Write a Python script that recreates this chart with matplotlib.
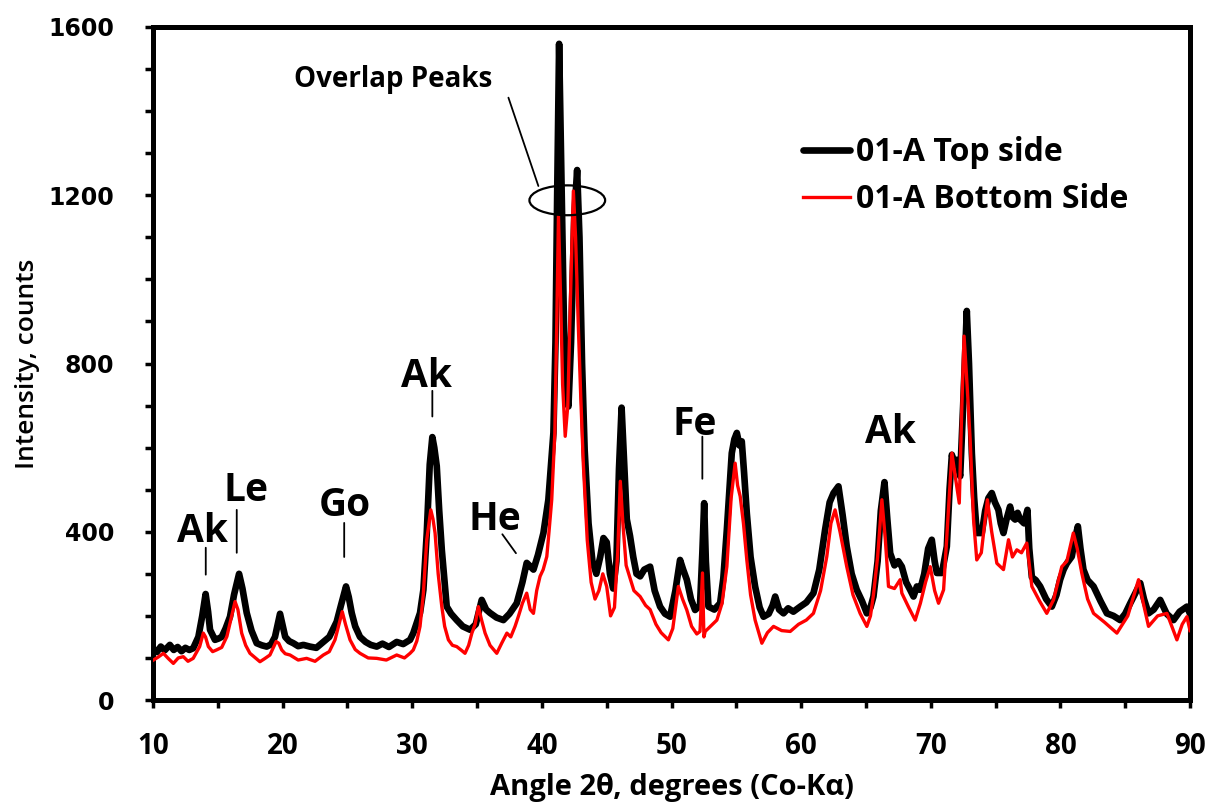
import matplotlib
matplotlib.use("Agg")
import matplotlib.pyplot as plt
from matplotlib.patches import Ellipse
from matplotlib.ticker import MultipleLocator
from matplotlib.font_manager import FontProperties

# ---------------- data ----------------
top_x = [10.0, 10.3, 10.6, 10.9, 11.3, 11.6, 11.9, 12.2, 12.5, 12.8, 13.1, 13.5, 13.8, 14.06, 14.25,
         14.4, 14.78, 15.05, 15.3, 15.6, 15.94, 16.25, 16.64, 16.9, 17.23, 17.6, 18.0, 18.4, 18.77,
         19.1, 19.41, 19.8, 20.2, 20.5, 20.83, 21.2, 21.6, 22.1, 22.6, 23.14, 23.6, 24.17, 24.5,
         24.89, 25.1, 25.33, 25.6, 25.97, 26.4, 26.8, 27.26, 27.7, 28.2, 28.8, 29.3, 29.83, 30.08,
         30.6, 30.86, 31.12, 31.35, 31.55, 31.7, 31.89, 32.08, 32.28, 32.66, 33.0, 33.43, 33.9,
         34.46, 34.9, 35.1, 35.36, 35.7, 36.0, 36.5, 37.03, 37.5, 38.06, 38.5, 38.83, 39.1, 39.35,
         39.7, 40.12, 40.5, 40.89, 41.05, 41.18, 41.33, 41.5, 41.7, 41.9, 42.05, 42.25, 42.5, 42.72,
         42.9, 43.1, 43.3, 43.6, 43.9, 44.2, 44.5, 44.75, 45.0, 45.25, 45.5, 45.75, 45.95, 46.15,
         46.35, 46.55, 46.8, 47.05, 47.3, 47.58, 47.9, 48.35, 48.7, 49.12, 49.5, 49.89, 50.3,
         50.66, 50.9, 51.18, 51.5, 51.82, 52.2, 52.38, 52.52, 52.65, 52.85, 53.3, 53.75, 54.0,
         54.27, 54.65, 54.85, 55.04, 55.25, 55.42, 55.6, 55.81, 56.1, 56.45, 56.8, 57.1, 57.5,
         57.8, 58.0, 58.3, 58.64, 59.0, 59.4, 59.93, 60.4, 60.95, 61.4, 61.85, 62.2, 62.5, 62.88,
         63.2, 63.52, 63.9, 64.29, 64.7, 65.07, 65.35, 65.58, 65.9, 66.15, 66.43, 66.65, 66.87,
         67.2, 67.5, 67.77, 68.1, 68.41, 68.67, 68.93, 69.18, 69.5, 69.8, 70.08, 70.3, 70.47,
         70.86, 71.24, 71.45, 71.63, 71.8, 72.01, 72.27, 72.5, 72.78, 72.95, 73.17, 73.35, 73.55,
         73.94, 74.2, 74.45, 74.71, 74.95, 75.22, 75.4, 75.61, 75.85, 76.12, 76.3, 76.51, 76.7,
         76.9, 77.2, 77.46, 77.6, 77.8, 78.1, 78.44, 78.9, 79.34, 79.7, 79.98, 80.25, 80.5, 80.88,
         81.1, 81.35, 81.55, 81.78, 82.1, 82.56, 83.1, 83.59, 84.1, 84.61, 85.0, 85.39, 85.8,
         86.16, 86.45, 86.8, 87.2, 87.7, 88.2, 88.73, 89.2, 89.76, 90.0]
top_y = [123, 114, 127, 118, 131, 119, 126, 116, 124, 119, 123, 150, 200, 252, 210,
         167, 143, 146, 150, 170, 198, 250, 300, 265, 207, 165, 135, 130, 127,
         132, 150, 205, 150, 140, 135, 128, 131, 127, 124, 138, 150, 186, 225,
         270, 245, 207, 175, 150, 138, 131, 127, 134, 126, 138, 133, 143, 159,
         207, 262, 397, 560, 625, 600, 556, 450, 357, 222, 205, 190, 175,
         167, 180, 205, 238, 215, 207, 196, 190, 205, 230, 280, 326, 318, 310,
         345, 397, 476, 635, 850, 1200, 1560, 1250, 900, 720, 698, 850, 1150, 1260,
         1100, 800, 595, 420, 330, 300, 340, 385, 375, 300, 265, 330, 550, 695,
         560, 430, 390, 340, 300, 294, 310, 317, 260, 222, 205, 198, 260,
         333, 310, 286, 240, 214, 225, 350, 468, 330, 222, 215, 230, 290,
         405, 587, 620, 635, 605, 615, 540, 444, 340, 270, 220, 198, 205,
         225, 246, 215, 206, 218, 210, 222, 232, 254, 310, 405, 470, 492, 508,
         440, 365, 300, 262, 235, 206, 220, 246, 330, 450, 518, 430, 349,
         320, 330, 317, 280, 262, 246, 270, 262, 300, 360, 381, 330, 302,
         302, 365, 500, 583, 560, 571, 532, 700, 925, 800, 587, 480, 397,
         397, 450, 480, 492, 470, 452, 420, 397, 430, 460, 435, 429, 445,
         429, 420, 452, 360, 292, 285, 270, 240, 222, 250, 286, 310, 325, 341,
         380, 413, 360, 310, 285, 270, 235, 206, 200, 190, 205, 230, 255,
         278, 240, 206, 215, 238, 205, 190, 210, 222, 205]

bot_x = [10.03, 10.4, 10.8, 11.2, 11.57, 11.95, 12.34, 12.7, 13.1, 13.6, 13.88, 14.05, 14.27, 14.6,
         14.9, 15.3, 15.7, 16.0, 16.33, 16.55, 16.84, 17.15, 17.48, 17.9, 18.25, 18.6, 19.02,
         19.5, 19.7, 19.93, 20.2, 20.57, 21.2, 21.85, 22.5, 23.14, 23.6, 24.04, 24.35, 24.6,
         24.85, 25.2, 25.6, 25.97, 26.6, 27.26, 28.0, 28.8, 29.4, 29.83, 30.08, 30.35, 30.6,
         30.85, 31.12, 31.43, 31.6, 31.76, 32.0, 32.28, 32.5, 32.79, 33.1, 33.43, 33.8, 34.07,
         34.35, 34.6, 34.85, 35.1, 35.35, 35.62, 36.0, 36.52, 36.9, 37.3, 37.6, 37.93, 38.2,
         38.5, 38.83, 39.1, 39.35, 39.6, 39.86, 40.1, 40.38, 40.55, 40.76, 41.0, 41.15, 41.28,
         41.45, 41.6, 41.8, 42.0, 42.2, 42.43, 42.6, 42.8, 43.0, 43.2, 43.5, 43.8, 44.1, 44.4,
         44.7, 45.0, 45.3, 45.6, 45.85, 46.05, 46.25, 46.5, 46.8, 47.1, 47.58, 48.0, 48.35,
         48.8, 49.2, 49.76, 50.1, 50.53, 50.85, 51.18, 51.55, 51.95, 52.2, 52.39, 52.5, 52.6,
         53.0, 53.5, 53.9, 54.27, 54.6, 54.91, 55.1, 55.3, 55.55, 55.81, 56.1, 56.45, 56.97,
         57.4, 57.87, 58.5, 59.16, 59.8, 60.4, 60.95, 61.5, 61.98, 62.3, 62.62, 63.0, 63.52,
         64.0, 64.55, 65.07, 65.35, 65.58, 65.9, 66.23, 66.5, 66.74, 67.2, 67.64, 67.77, 68.3,
         68.8, 69.2, 69.6, 69.96, 70.3, 70.6, 70.99, 71.3, 71.63, 71.85, 72.2, 72.4, 72.57,
         72.8, 73.04, 73.3, 73.55, 73.9, 74.37, 74.7, 75.1, 75.61, 76.0, 76.3, 76.64, 77.0,
         77.41, 77.8, 78.4, 78.95, 79.47, 80.11, 80.5, 81.0, 81.3, 81.65, 82.1, 82.56, 83.4,
         84.36, 85.2, 86.03, 86.4, 86.8, 87.5, 88.22, 88.99, 89.4, 89.76, 90.0]
bot_y = [95, 102, 111, 98, 87, 100, 103, 92, 99, 127, 159, 150, 127, 115,
         119, 125, 151, 190, 234, 215, 159, 130, 111, 100, 91, 98, 107,
         139, 135, 119, 110, 107, 95, 99, 92, 107, 115, 143, 180, 210,
         180, 143, 120, 111, 100, 99, 95, 107, 100, 111, 119, 140, 175,
         250, 381, 452, 430, 397, 300, 222, 175, 143, 130, 127, 118, 111,
         130, 159, 180, 222, 190, 159, 130, 111, 135, 159, 150, 175, 200,
         230, 254, 215, 206, 260, 294, 310, 341, 400, 476, 635, 900, 1151,
         950, 750, 627, 700, 950, 1210, 1100, 900, 720, 560, 380, 280, 240, 260,
         300, 270, 200, 220, 350, 520, 420, 320, 290, 260, 246, 225, 215,
         180, 160, 143, 170, 270, 240, 214, 175, 157, 163, 302, 150, 163,
         175, 190, 230, 317, 480, 563, 510, 484, 420, 333, 250, 190, 135,
         160, 175, 165, 163, 180, 190, 206, 260, 341, 420, 452, 400, 317,
         250, 206, 175, 200, 250, 340, 476, 380, 270, 265, 286, 254, 220,
         190, 230, 280, 317, 260, 230, 262, 420, 587, 540, 468, 700, 865,
         750, 619, 430, 333, 350, 476, 400, 325, 310, 381, 340, 357, 350,
         373, 270, 235, 206, 238, 317, 330, 397, 360, 302, 240, 206, 185,
         159, 200, 286, 230, 175, 200, 206, 143, 180, 198, 165]

series_labels = ["01-A Top side", "01-A Bottom Side"]
x_ticks = [10, 20, 30, 40, 50, 60, 70, 80, 90]
y_ticks = [0, 400, 800, 1200, 1600]

# phase labels: (text, text x, text y, line x0, line y0, line x1, line y1)
phase_labels = [
    ("Ak", 13.8, 400, 14.07, 362, 14.07, 298),
    ("Le", 17.2, 498, 16.46, 452, 16.46, 350),
    ("Go", 24.8, 462, 24.75, 421, 24.75, 340),
    ("Ak", 31.1, 768, 31.55, 735, 31.55, 674),
    ("He", 36.4, 430, 36.95, 394, 38.0, 349),
    ("Fe", 51.8, 655, 52.38, 626, 52.38, 526),
    ("Ak", 66.9, 636, None, None, None, None),
]

# ---------------- figure ----------------
fig = plt.figure(figsize=(12.14, 8.09), dpi=100)
ax = fig.add_axes([153 / 1214, 109 / 809, 1037 / 1214, 673 / 809])

ax.plot(top_x, top_y, color="black", lw=4.8, solid_joinstyle="round",
        solid_capstyle="round", label=series_labels[0], zorder=2)
ax.plot(bot_x, bot_y, color="#ff0000", lw=2.4, solid_joinstyle="round",
        label=series_labels[1], zorder=3)

ax.set_xlim(10, 90)
ax.set_ylim(0, 1600)
ax.set_xticks(x_ticks)
ax.set_yticks(y_ticks)
ax.xaxis.set_minor_locator(MultipleLocator(5))
ax.yaxis.set_minor_locator(MultipleLocator(100))

for s in ax.spines.values():
    s.set_linewidth(3.6)
    s.set_color("black")

ax.tick_params(axis="both", which="both", direction="out", length=6, width=2.5, color="black")
ax.tick_params(axis="x", which="major", pad=17)
ax.tick_params(axis="y", which="major", pad=22)
ax.tick_params(top=False, right=False)

label_font = "Open Sans"
for t in ax.get_xticklabels():
    t.set_fontfamily(label_font)
    t.set_fontweight("bold")
    t.set_fontsize(20)
for t in ax.get_yticklabels():
    t.set_fontfamily("DejaVu Sans")
    t.set_fontweight("bold")
    t.set_fontsize(17)

ax.set_xlabel("Angle 2θ, degrees (Co-Kα)", fontfamily=label_font, fontweight="bold",
              fontsize=21, labelpad=9)
ax.set_ylabel("Intensity, counts", fontfamily=label_font, fontweight="semibold",
              fontsize=19, labelpad=6)

for txt, tx, ty, x0, y0, x1, y1 in phase_labels:
    ax.text(tx, ty, txt, fontfamily=label_font, fontweight="bold", fontsize=28,
            ha="center", va="center", zorder=5)
    if x0 is not None:
        ax.annotate("", xy=(x1, y1), xytext=(x0, y0),
                    arrowprops=dict(arrowstyle="-", lw=1.3, color="black",
                                    shrinkA=0, shrinkB=0))

# overlap peaks annotation
ax.text(28.5, 1474, "Overlap Peaks", fontfamily=label_font, fontweight="bold",
        fontsize=20, ha="center", va="center")
ax.annotate("", xy=(39.73, 1222), xytext=(37.42, 1432),
            arrowprops=dict(arrowstyle="-", lw=1.3, color="black", shrinkA=0, shrinkB=0))
ax.add_patch(Ellipse((41.96, 1188), 5.84, 71, fill=False, lw=1.6, ec="black", zorder=6))

leg = ax.legend(loc="upper left", bbox_to_anchor=(0.627, 0.838), frameon=False,
                prop=FontProperties(family=label_font, weight="bold", size=23),
                handlelength=1.45, handletextpad=0.2, labelspacing=0.45,
                borderpad=0, borderaxespad=0)

fig.savefig("out.png", dpi=100)
